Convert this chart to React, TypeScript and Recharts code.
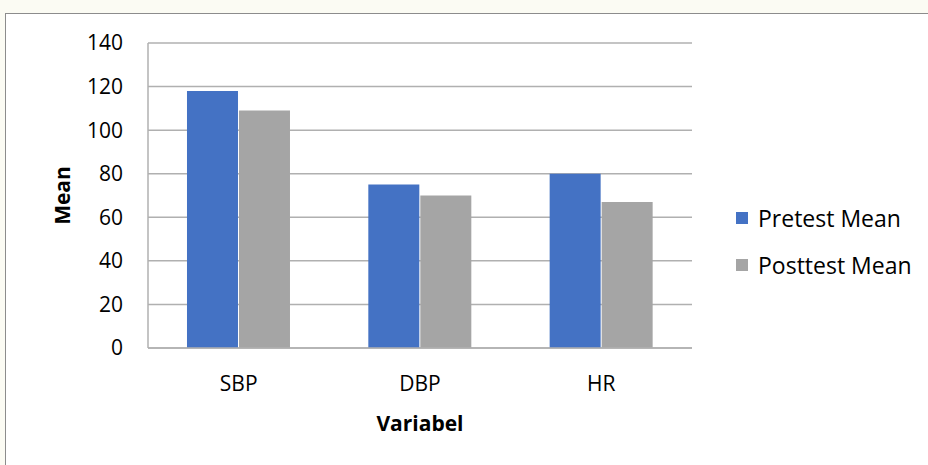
import React from "react";
import {
  BarChart,
  Bar,
  XAxis,
  YAxis,
  CartesianGrid,
} from "recharts";

const categories = ["SBP", "DBP", "HR"];
const pretestMean = [118, 75, 80];
const posttestMean = [109, 70, 67];
const yTicks = [0, 20, 40, 60, 80, 100, 120, 140];

const series = [
  { key: "pretest", name: "Pretest Mean", color: "#4472C4" },
  { key: "posttest", name: "Posttest Mean", color: "#A5A5A5" },
];

const data = categories.map((name, i) => ({
  name,
  pretest: pretestMean[i],
  posttest: posttestMean[i],
}));

const font = "'Open Sans', 'Noto Sans', sans-serif";

function MeanLabel(p: any) {
  const vb = p.viewBox;
  const cx = 62;
  const cy = vb.y + vb.height / 2;
  return (
    <text
      x={cx}
      y={cy}
      transform={`rotate(-90 ${cx} ${cy})`}
      textAnchor="middle"
      dominantBaseline="central"
      fill="#000"
      fontSize={21}
      fontWeight={700}
      fontFamily={font}
    >
      Mean
    </text>
  );
}

export default function App() {
  return (
    <div
      style={{
        position: "absolute",
        left: 0,
        top: 0,
        width: 928,
        height: 465,
        background: "#fbfbf3",
        overflow: "hidden",
      }}
    >
      <div
        style={{
          position: "absolute",
          left: 5,
          top: 13,
          width: 940,
          height: 470,
          background: "#fff",
          border: "1px solid #8c8c8c",
        }}
      />
      <div style={{ position: "absolute", left: 0, top: 0 }}>
        <BarChart
          width={928}
          height={465}
          data={data}
          margin={{ top: 43, right: 236, left: 0, bottom: 87 }}
          barCategoryGap="21.5%"
          barGap={1}
        >
          <CartesianGrid vertical={false} stroke="#b0b0b0" strokeWidth={1.5} />
          <XAxis
            dataKey="name"
            height={30}
            axisLine={{ stroke: "#b0b0b0", strokeWidth: 1.5 }}
            tickLine={false}
            tick={{ fill: "#000", fontSize: 21, fontFamily: font }}
            tickMargin={22}
            label={{
              value: "Variabel",
              position: "bottom",
              offset: 38,
              style: { fill: "#000", fontSize: 21, fontWeight: 700, fontFamily: font },
            }}
          />
          <YAxis
            width={148}
            domain={[0, 140]}
            ticks={yTicks}
            interval={0}
            axisLine={{ stroke: "#b0b0b0", strokeWidth: 1.5 }}
            tickLine={false}
            tickMargin={19}
            tick={{ fill: "#000", fontSize: 21, fontFamily: font }}
            label={<MeanLabel />}
          />
          {series.map((s) => (
            <Bar
              key={s.key}
              dataKey={s.key}
              name={s.name}
              fill={s.color}
              isAnimationActive={false}
            />
          ))}
        </BarChart>
      </div>
      <div
        style={{
          position: "absolute",
          left: 736,
          top: 194,
          fontFamily: font,
        }}
      >
        {series.map((s) => (
          <div
            key={s.key}
            style={{
              display: "flex",
              alignItems: "center",
              height: 47,
              fontSize: 23,
              color: "#000",
            }}
          >
            <span
              style={{
                display: "inline-block",
                width: 12,
                height: 12,
                background: s.color,
                marginRight: 10,
              }}
            />
            {s.name}
          </div>
        ))}
      </div>
    </div>
  );
}
